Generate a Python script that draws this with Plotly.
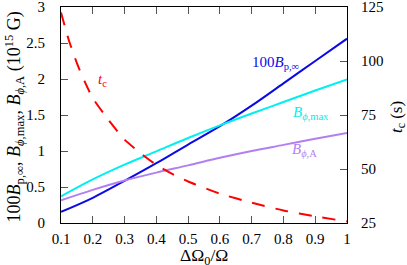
import plotly.graph_objects as go

# ---- data ----
x_b = [0.1, 0.2, 0.3, 0.4, 0.5, 0.6, 0.7, 0.8, 0.9, 1.0]
bp100 = [0.155, 0.35, 0.585, 0.83, 1.09, 1.345, 1.63, 1.94, 2.25, 2.56]
bphi_max = [0.37, 0.605, 0.81, 0.995, 1.18, 1.355, 1.52, 1.68, 1.84, 1.995]
bphi_a = [0.315, 0.46, 0.59, 0.70, 0.80, 0.905, 1.0, 1.085, 1.17, 1.25]

x_t = [0.1, 0.125, 0.15, 0.175, 0.2, 0.25, 0.3, 0.35, 0.4, 0.45, 0.5, 0.6, 0.7, 0.8, 0.9, 1.0]
t_c = [122.5, 109.5, 99.0, 90.3, 82.8, 72.6, 63.6, 57.4, 51.9, 47.7, 44.2, 38.6, 34.4, 30.8, 28.1, 25.7]

x_ticks = [0.1, 0.2, 0.3, 0.4, 0.5, 0.6, 0.7, 0.8, 0.9, 1.0]
x_ticktext = ["0.1", "0.2", "0.3", "0.4", "0.5", "0.6", "0.7", "0.8", "0.9", "1"]
y_ticks = [0, 0.5, 1, 1.5, 2, 2.5, 3]
y_ticktext = ["0", "0.5", "1", "1.5", "2", "2.5", "3"]
y2_ticks = [25, 50, 75, 100, 125]

BLUE = "#0a0ae6"
CYAN = "#00f0f0"
PURPLE = "#b27ff2"
RED = "#ff0000"
FONT = "Liberation Serif"

fig = go.Figure()
fig.add_trace(go.Scatter(x=x_b, y=bp100, mode="lines", line=dict(color=BLUE, width=2, shape="spline"), showlegend=False))
fig.add_trace(go.Scatter(x=x_b, y=bphi_max, mode="lines", line=dict(color=CYAN, width=2, shape="spline"), showlegend=False))
fig.add_trace(go.Scatter(x=x_b, y=bphi_a, mode="lines", line=dict(color=PURPLE, width=2, shape="spline"), showlegend=False))
fig.add_trace(go.Scatter(x=x_t, y=t_c, mode="lines", yaxis="y2",
                         line=dict(color=RED, width=2, dash="13px,11px", shape="spline", smoothing=0.6),
                         showlegend=False))

# curve labels
fig.add_annotation(x=0.774, y=2.22, text="100<i>B</i><sub>p,∞</sub>", showarrow=False,
                   font=dict(family=FONT, size=15, color=BLUE))
fig.add_annotation(x=0.887, y=1.53, text="<i>B</i><sub><i>ϕ</i>,max</sub>", showarrow=False,
                   font=dict(family=FONT, size=15, color=CYAN))
fig.add_annotation(x=0.866, y=1.02, text="<i>B</i><sub><i>ϕ</i>,A</sub>", showarrow=False,
                   font=dict(family=FONT, size=15, color=PURPLE))
fig.add_annotation(x=0.232, y=1.99, text="<i>t</i><sub>c</sub>", showarrow=False,
                   font=dict(family=FONT, size=15, color=RED))

# axis titles (plot area spans 286 x 216.5 px)
fig.add_annotation(xref="paper", yref="paper", x=-0.162, y=0.492, textangle=-90, showarrow=False,
                   xanchor="center", yanchor="middle",
                   text="100<i>B</i><sub>p,∞</sub>, <i>B</i><sub><i>ϕ</i>,max</sub>, <i>B</i><sub><i>ϕ</i>,A</sub> (10<sup>15</sup> G)",
                   font=dict(family=FONT, size=18, color="black"))
fig.add_annotation(xref="paper", yref="paper", x=1.178, y=0.49, textangle=-90, showarrow=False,
                   xanchor="center", yanchor="middle",
                   text="<i>t</i><sub>c</sub> (s)", font=dict(family=FONT, size=17, color="black"))
fig.add_annotation(xref="paper", yref="paper", x=0.5, y=-0.155, showarrow=False,
                   xanchor="center", yanchor="middle",
                   text="ΔΩ<sub>0</sub>/Ω", font=dict(family=FONT, size=17.5, color="black"))

axis_common = dict(showgrid=False, zeroline=False, showline=True, linecolor="black", linewidth=1,
                   ticks="inside", ticklen=7, tickcolor="#555555", automargin=False,
                   ticklabeloverflow="allow",
                   tickfont=dict(family=FONT, size=15, color="black"))

fig.update_layout(
    width=407, height=265,
    margin=dict(l=61, r=60, t=7, b=41.5),
    paper_bgcolor="white", plot_bgcolor="white",
    font=dict(family=FONT, size=15, color="black"),
    xaxis=dict(range=[0.1, 1.0], tickvals=x_ticks, ticktext=x_ticktext, mirror="ticks",
               ticklabelstandoff=2, **axis_common),
    yaxis=dict(range=[0, 3], tickvals=y_ticks, ticktext=y_ticktext, mirror=True,
               ticklabelstandoff=12, **axis_common),
    yaxis2=dict(range=[25, 125], tickvals=y2_ticks, overlaying="y", side="right",
                ticklabelstandoff=10, **axis_common),
)

fig.write_html("out.html", config={"displayModeBar": False},
               post_script="document.body.style.margin='0';")
